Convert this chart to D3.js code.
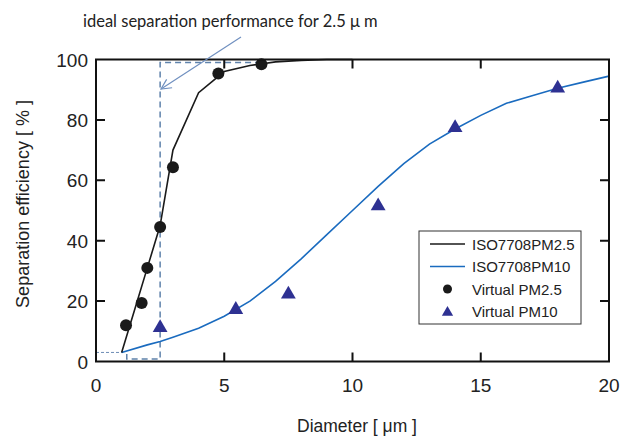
<!DOCTYPE html>
<html>
<head>
<meta charset="utf-8">
<script src="https://cdn.jsdelivr.net/npm/d3@7"></script>
<style>
  body { margin: 0; background: #fff; }
  svg { display: block; }
</style>
</head>
<body>
<div id="chart"></div>
<script>
// ISO 7708 convention curves (diameter in um, efficiency in %)
const isoPm25 = [[1, 3], [1.5, 17], [2, 31], [2.5, 45], [3, 70], [4, 89], [5, 96], [6, 98], [7, 99.2], [8, 99.7], [9, 100], [10, 100]];
const isoPm10 = [[1, 3], [2, 5.5], [2.5, 6.6], [3, 8], [4, 11], [5, 15], [6, 20], [7, 26.5], [8, 34], [9, 42], [10, 50], [11, 58], [12, 65.5], [13, 72], [14, 77], [15, 81.5], [16, 85.5], [17, 88], [18, 90.5], [19, 92.5], [20, 94.5]];
const virtualPm25 = [[1.17, 12], [1.78, 19.4], [2, 31], [2.5, 44.5], [3, 64.3], [4.77, 95.4], [6.45, 98.4]];
const virtualPm10 = [[2.5, 11.5], [5.45, 17.5], [7.5, 22.6], [11, 51.8], [14, 77.7], [18, 90.8]];
// ideal step for 2.5 um and the short lead-in below 1 um
const idealStep = [[1.2, 2.5], [1.2, 0.8], [2.5, 0.8], [2.5, 99], [6.3, 99]];
const leadIn = [[0, 3], [1, 3]];

const xTicks = [0, 5, 10, 15, 20];
const yTicks = [0, 20, 40, 60, 80, 100];
const legendLabels = ["ISO7708PM2.5", "ISO7708PM10", "Virtual PM2.5", "Virtual PM10"];

const width = 630, height = 437;
const pLeft = 96, pRight = 609, pTop = 59.5, pBottom = 361.5;

const svg = d3.select("#chart").append("svg")
    .attr("width", width)
    .attr("height", height);

const x = d3.scaleLinear().domain([0, 20]).range([pLeft, pRight]);
const y = d3.scaleLinear().domain([0, 100]).range([pBottom, pTop]);

const line = d3.line().x(d => x(d[0])).y(d => y(d[1]));

const tickFont = "Liberation Sans, Arial, sans-serif";

// marker for annotation arrow
svg.append("defs").append("marker")
    .attr("id", "arrow")
    .attr("viewBox", "0 0 12 12")
    .attr("refX", 11).attr("refY", 6)
    .attr("markerWidth", 12).attr("markerHeight", 12)
    .attr("markerUnits", "userSpaceOnUse")
    .attr("orient", "auto")
    .append("path")
    .attr("d", "M1,1 L11,6 L1,11")
    .attr("fill", "none")
    .attr("stroke", "#7090c0")
    .attr("stroke-width", 1.2);

// dashed ideal lines
svg.append("path")
    .datum(leadIn)
    .attr("d", line)
    .attr("fill", "none")
    .attr("stroke", "#6d8db5")
    .attr("stroke-width", 1)
    .attr("stroke-dasharray", "3,2");

svg.append("path")
    .datum(idealStep)
    .attr("d", line)
    .attr("fill", "none")
    .attr("stroke", "#5f82ab")
    .attr("stroke-width", 1.5)
    .attr("stroke-dasharray", "6,4");

// curves
svg.append("path")
    .datum(isoPm10)
    .attr("d", line)
    .attr("fill", "none")
    .attr("stroke", "#1a6bbf")
    .attr("stroke-width", 1.6);

svg.append("path")
    .datum(isoPm25)
    .attr("d", line)
    .attr("fill", "none")
    .attr("stroke", "#1a1a1a")
    .attr("stroke-width", 1.6);

// markers
svg.selectAll(".dot")
    .data(virtualPm25)
    .enter().append("circle")
    .attr("cx", d => x(d[0]))
    .attr("cy", d => y(d[1]))
    .attr("r", 6)
    .attr("fill", "#1a1a1a");

const tri = d3.symbol().type(d3.symbolTriangle).size(95);
svg.selectAll(".tri")
    .data(virtualPm10)
    .enter().append("path")
    .attr("d", tri)
    .attr("transform", d => `translate(${x(d[0])},${y(d[1]) + 1})`)
    .attr("fill", "#2e3192");

// frame and inward ticks
const frame = svg.append("g");
frame.append("rect")
    .attr("x", pLeft).attr("y", pTop)
    .attr("width", pRight - pLeft).attr("height", pBottom - pTop)
    .attr("fill", "none")
    .attr("stroke", "#111")
    .attr("stroke-width", 2);

const tl = 9;
frame.selectAll(".xt")
    .data(xTicks.slice(1, -1))
    .enter().append("path")
    .attr("d", d => `M${x(d)},${pBottom}V${pBottom - tl}M${x(d)},${pTop}V${pTop + tl}`)
    .attr("stroke", "#111")
    .attr("stroke-width", 2);

frame.selectAll(".yt")
    .data(yTicks.slice(1, -1))
    .enter().append("path")
    .attr("d", d => `M${pLeft},${y(d)}H${pLeft + tl}M${pRight},${y(d)}H${pRight - tl}`)
    .attr("stroke", "#111")
    .attr("stroke-width", 2);

// tick labels
svg.selectAll(".xl")
    .data(xTicks)
    .enter().append("text")
    .attr("x", d => x(d))
    .attr("y", 392)
    .attr("text-anchor", "middle")
    .attr("font-family", tickFont)
    .attr("font-size", 19)
    .attr("fill", "#222")
    .text(d => d);

svg.selectAll(".yl")
    .data(yTicks)
    .enter().append("text")
    .attr("x", 88)
    .attr("y", d => y(d) + 7)
    .attr("text-anchor", "end")
    .attr("font-family", tickFont)
    .attr("font-size", 19)
    .attr("fill", "#222")
    .text(d => d);

// axis titles
svg.append("text")
    .attr("x", 357)
    .attr("y", 432)
    .attr("text-anchor", "middle")
    .attr("font-family", tickFont)
    .attr("font-size", 17.5)
    .attr("fill", "#222")
    .text("Diameter [ \u03bcm ]");

svg.append("text")
    .attr("transform", "translate(29,204) rotate(-90)")
    .attr("text-anchor", "middle")
    .attr("font-family", tickFont)
    .attr("font-size", 18)
    .attr("fill", "#222")
    .text("Separation efficiency [ % ]");

// annotation
svg.append("text")
    .attr("x", 83)
    .attr("y", 27)
    .attr("font-family", "Lato, Open Sans, sans-serif")
    .attr("font-size", 16.5)
    .attr("fill", "#222")
    .text("ideal separation performance for 2.5 \u03bc m");

svg.append("line")
    .attr("x1", 241).attr("y1", 37)
    .attr("x2", 161).attr("y2", 89)
    .attr("stroke", "#7090c0")
    .attr("stroke-width", 1.2)
    .attr("marker-end", "url(#arrow)");

// legend
const lg = svg.append("g").attr("transform", "translate(419,231)");
lg.append("rect")
    .attr("width", 162).attr("height", 93)
    .attr("fill", "#fff")
    .attr("stroke", "#333")
    .attr("stroke-width", 1);

const rowY = i => 13 + i * 22.5;
lg.selectAll(".ll")
    .data(legendLabels)
    .enter().append("text")
    .attr("x", 53)
    .attr("y", (d, i) => rowY(i) + 5.5)
    .attr("font-family", tickFont)
    .attr("font-size", 15)
    .attr("fill", "#222")
    .text(d => d);

lg.append("line").attr("x1", 11).attr("x2", 46).attr("y1", rowY(0)).attr("y2", rowY(0))
    .attr("stroke", "#1a1a1a").attr("stroke-width", 1.4);
lg.append("line").attr("x1", 11).attr("x2", 46).attr("y1", rowY(1)).attr("y2", rowY(1))
    .attr("stroke", "#1a6bbf").attr("stroke-width", 1.6);
lg.append("circle").attr("cx", 28.5).attr("cy", rowY(2)).attr("r", 4.5).attr("fill", "#1a1a1a");
lg.append("path").attr("d", d3.symbol().type(d3.symbolTriangle).size(55))
    .attr("transform", `translate(28.5,${rowY(3) + 1})`)
    .attr("fill", "#2e3192");
</script>
</body>
</html>
